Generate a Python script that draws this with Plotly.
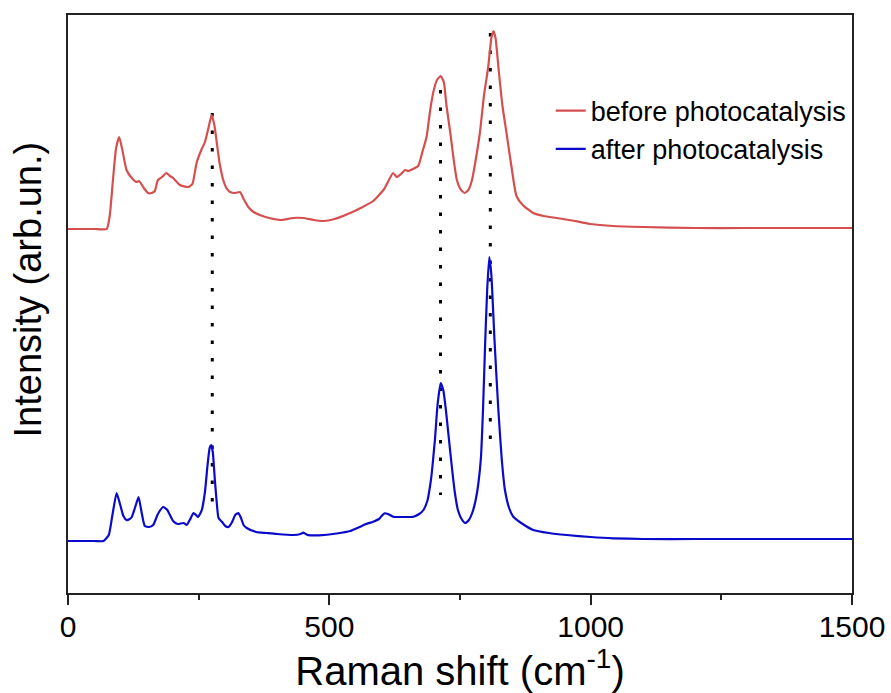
import plotly.graph_objects as go

# ---- data (Raman shift in cm-1, intensity in arbitrary units) ----
before_x = [0, 50, 74, 80, 86, 92, 98, 104, 112, 122, 131, 136, 145, 153, 160, 166, 172, 180, 188, 195,
            201, 214, 230, 238, 246, 255, 262, 270, 275, 280, 284, 290, 297, 303, 310, 320, 329, 337, 345,
            355, 367, 385, 409, 430, 450, 470, 488, 510, 540, 560, 584, 605, 622, 629, 637, 645, 651, 660,
            670, 678, 686, 693, 699, 706, 713, 719, 724, 732, 738, 744, 752, 759, 766, 773, 780, 788, 796,
            804, 810, 814, 818, 824, 831, 839, 848, 858, 870, 890, 910, 935, 970, 1000, 1043, 1100, 1200,
            1300, 1400, 1500]
before_px = [229, 229, 229, 215, 180, 148, 137, 150, 170, 178, 182, 181, 188, 193, 193, 191, 180, 177, 173, 176,
             178, 185, 187, 184, 163, 150, 142, 125, 115, 125, 140, 163, 180, 188, 192, 193, 192, 200, 207,
             212, 215, 218, 220, 218, 218, 220, 221, 219, 213, 208, 201, 189, 173, 177, 174, 170, 171, 169,
             166, 152, 137, 110, 92, 80, 76, 82, 105, 135, 160, 180, 190, 193, 190, 180, 160, 133, 95,
             67, 38, 31, 38, 70, 105, 133, 165, 196, 205, 213, 216, 218, 221, 224, 226, 227, 228,
             228, 228, 228]
before_y = [593 - v for v in before_px]

after_x = [0, 50, 68, 78, 85, 93, 100, 106, 112, 118, 122, 128, 135, 140, 147, 155, 163, 172, 182, 190,
           201, 210, 221, 227, 233, 240, 245, 249, 256, 262, 267, 271, 274, 277, 281, 285, 288, 295, 301,
           307, 314, 320, 326, 331, 336, 342, 360, 380, 400, 431, 445, 450, 455, 460, 480, 514, 540, 559,
           570, 584, 595, 600, 606, 612, 622, 640, 661, 672, 680, 688, 693, 696, 702, 707, 713, 718, 723,
           728, 734, 740, 746, 753, 760, 767, 774, 780, 785, 790, 794, 798, 802, 806, 810, 816, 823, 830, 836, 844,
           852, 870, 890, 920, 954, 1000, 1043, 1100, 1200, 1300, 1400, 1500]
after_px = [541, 541, 541, 535, 515, 493, 505, 516, 520, 519, 517, 508, 497, 510, 526, 527, 525, 514, 507, 510,
            521, 524, 523, 525, 520, 513, 515, 517, 510, 492, 465, 448, 445, 452, 480, 505, 518, 522, 526,
            527, 522, 515, 513, 518, 525, 528, 532, 533, 534, 535, 534, 532.7, 534, 535.2, 535.3, 533.5, 531, 526.7,
            524, 521.7, 519, 516, 513.3, 514, 516.7, 517, 516.7, 514, 510, 500, 485, 473, 440, 405, 383, 390, 410,
            435, 465, 492, 510, 519, 523, 520, 512, 500, 484, 458, 410, 345, 290, 257, 275, 340, 406.7, 460, 490, 508,
            516.7, 524, 530, 533, 535, 537, 538.3, 539, 539, 539, 539, 539]
after_y = [593 - v for v in after_px]

# guide lines (peak positions) and their vertical extents
guide_x = [276, 712.7, 808]
guide_top = [480, 503, 560]
guide_bottom = [78, 98, 150]

series_names = ["before photocatalysis", "after photocatalysis"]
x_ticks = [0, 500, 1000, 1500]

RED = "#D64F4F"
BLUE = "#0A0ACB"
FONT = "Arial, Liberation Sans, sans-serif"

fig = go.Figure()

for gx, gt, gb in zip(guide_x, guide_top, guide_bottom):
    fig.add_trace(go.Scatter(x=[gx, gx], y=[gt, gb], mode="lines", showlegend=False,
                             line=dict(color="black", width=3, dash="3.5px,14px"),
                             hoverinfo="skip"))

fig.add_trace(go.Scatter(x=before_x, y=before_y, mode="lines", name=series_names[0],
                         line=dict(color=RED, width=2.2, shape="spline", smoothing=0.5)))
fig.add_trace(go.Scatter(x=after_x, y=after_y, mode="lines", name=series_names[1],
                         line=dict(color=BLUE, width=2.2, shape="spline", smoothing=0.5)))

fig.update_layout(
    width=891, height=693,
    margin=dict(l=68, r=39, t=15, b=100, autoexpand=False),
    paper_bgcolor="white", plot_bgcolor="white",
    font=dict(family=FONT, color="black"),
    showlegend=True,
    legend=dict(x=0.6157, y=0.876, xanchor="left", yanchor="top",
                bgcolor="rgba(0,0,0,0)", font=dict(size=27, family=FONT),
                tracegroupgap=0, itemwidth=30),
    xaxis=dict(range=[0, 1500], tickvals=x_ticks, ticktext=[str(v) for v in x_ticks],
               ticks="outside", ticklen=10, tickwidth=1.5, tickcolor="#222",
               minor=dict(dtick=250, ticks="outside", ticklen=5, tickwidth=1.5, tickcolor="#222"),
               showline=True, linecolor="#222", linewidth=1.8, mirror=True,
               showgrid=False, zeroline=False, automargin=False,
               ticklabelstandoff=-4,
               tickfont=dict(size=30, family=FONT),
               title=dict(text="Raman shift (cm<sup>-1</sup>)", font=dict(size=40, family=FONT), standoff=8)),
    yaxis=dict(range=[0, 578], showticklabels=False, ticks="",
               showline=True, linecolor="#222", linewidth=1.8, mirror=True,
               showgrid=False, zeroline=False, automargin=False),
    annotations=[dict(text="Intensity (arb.un.)", textangle=-90, xref="paper", yref="paper",
                      x=(27.5 - 68) / 784, y=(593 - 290) / 578, xanchor="center", yanchor="middle",
                      showarrow=False, font=dict(size=38, family=FONT))],
)

fig.write_html("out.html", config={"displayModeBar": False},
               post_script="document.body.style.margin='0';document.body.style.overflow='hidden';")
